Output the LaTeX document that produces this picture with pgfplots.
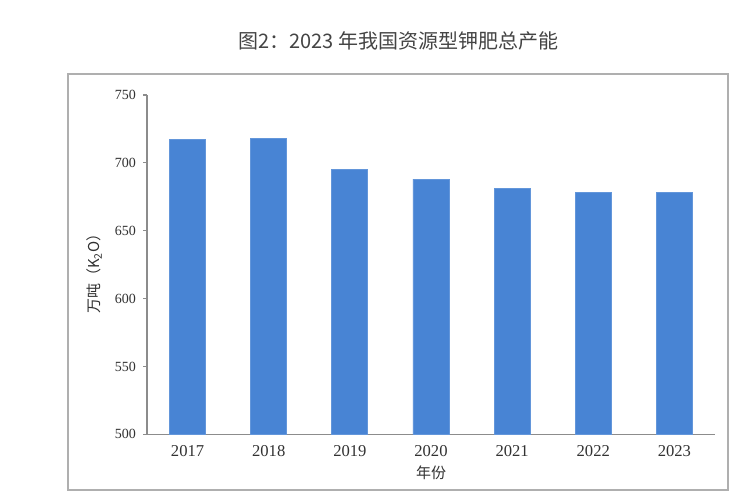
\documentclass[border=0pt]{standalone}
\usepackage{pgfplots}
\pgfplotsset{compat=1.18}
\usepackage{fontspec}
\setmainfont{Liberation Serif}
\newfontfamily\cjk{Noto Sans CJK SC}
\definecolor{barblue}{RGB}{72,132,212}
\definecolor{axgray}{RGB}{140,140,140}
\definecolor{framegray}{RGB}{175,175,175}
\definecolor{titlegray}{RGB}{68,68,68}
\definecolor{labgray}{RGB}{50,50,50}
\begin{document}
\begin{tikzpicture}[x=0.5pt,y=0.5pt]
\fill[white] (0,0) rectangle (750,500);
\draw[framegray, line width=1.2pt] (68,10) rectangle (728,426);
\node[font=\cjk\fontsize{10pt}{12pt}\selectfont, text=titlegray] at (398.5,459) {图2：2023 年我国资源型钾肥总产能};
\begin{axis}[
  at={(73.5pt,32.85pt)}, anchor=south west,
  scale only axis, width=284pt, height=169.65pt,
  ymin=500, ymax=750, ytick={500,550,600,650,700,750},
  xmin=-0.5, xmax=6.5, xtick=data,
  xticklabels={2017,2018,2019,2020,2021,2022,2023},
  axis x line*=bottom, axis y line*=left,
  axis line style={-, axgray, line width=0.8pt},
  ybar, bar width=18pt,
  tick align=outside, major tick length=2pt,
  xtick style={draw=none}, ytick style={axgray, line width=0.6pt},
  /pgf/number format/assume math mode=true,
  /pgf/number format/set thousands separator={},
  yticklabel style={font=\fontsize{7}{8}\selectfont, text=labgray},
  xticklabel style={font=\fontsize{8.3}{9}\selectfont, text=labgray},
  clip=false,
]
\addplot[fill=barblue, draw=barblue!85!white] coordinates {
 (0,717) (1,718) (2,695) (3,688) (4,681) (5,678) (6,678)};
\end{axis}
\node[rotate=90, font=\cjk\fontsize{7.5pt}{8pt}\selectfont, text=labgray] at (94,230) {万吨（K\textsubscript{2}O）};
\node[font=\cjk\fontsize{7.5pt}{8pt}\selectfont, text=labgray] at (431,27) {年份};
\end{tikzpicture}
\end{document}
